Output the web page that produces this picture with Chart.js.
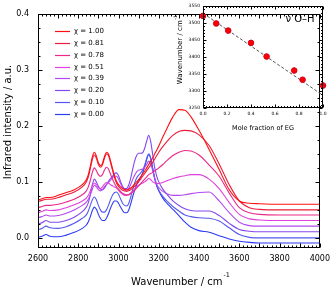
<!DOCTYPE html>
<html>
<head>
<meta charset="utf-8">
<script src="https://cdn.jsdelivr.net/npm/chart.js@4.4.0/dist/chart.umd.min.js"></script>
<style>
  body { margin: 0; background: #fff; }
  #wrap { position: relative; width: 336px; height: 288px; }
  #wrap canvas { position: absolute; left: 0; top: 0; }
</style>
</head>
<body>
<div id="wrap">
  <canvas id="main" width="336" height="288"></canvas>
  <canvas id="inset" width="336" height="288"></canvas>
</div>
<script>
// --- spectra (wavenumber in cm-1, intensity in a.u.) ---
const wavenumbers = [2600, 2620, 2640, 2660, 2700, 2740, 2780, 2820,
  2840, 2850, 2860, 2870, 2880, 2890, 2900, 2910, 2920, 2930,
  2940, 2950, 2960, 2970, 2980, 2990, 3000, 3010, 3020, 3030,
  3040, 3050, 3060, 3070, 3080, 3090, 3100, 3110, 3120, 3130,
  3140, 3150, 3160, 3170, 3180, 3190, 3200,
  3220, 3240, 3270, 3300, 3330, 3360, 3400, 3450, 3500, 3550, 3600, 3650, 3700, 3800, 3900, 4000];

const chiLabels = ["1.00", "0.81", "0.78", "0.51", "0.39", "0.20", "0.10", "0.00"];

const ir_x100 = [.068, .070, .072, .072, .076, .081, .086, .095,
  .104, .113, .128, .145, .153, .146, .134, .129, .133, .145,
  .153, .150, .138, .124, .111, .101, .095, .091, .088, .087,
  .086, .087, .089, .092, .096, .100, .104, .109, .114, .119,
  .125, .131, .137, .143, .150, .157, .164,
  .180, .195, .216, .229, .228, .216, .192, .158, .122, .086, .066, .062, .061, .060, .060, .060];
const ir_x081 = [.065, .067, .069, .069, .072, .077, .082, .091,
  .100, .109, .124, .140, .148, .142, .131, .126, .130, .142,
  .150, .147, .135, .121, .108, .098, .092, .088, .085, .084,
  .083, .084, .086, .089, .092, .096, .100, .105, .110, .115,
  .120, .125, .130, .135, .141, .147, .153,
  .163, .172, .183, .190, .192, .191, .184, .165, .132, .095, .066, .054, .051, .050, .050, .050];
const ir_x078 = [.054, .056, .058, .058, .060, .064, .069, .077,
  .084, .091, .103, .117, .125, .120, .113, .110, .113, .121,
  .126, .123, .114, .105, .097, .091, .087, .083, .080, .078,
  .077, .077, .079, .082, .085, .089, .093, .097, .101, .105,
  .109, .113, .115, .117, .120, .122, .125,
  .131, .138, .147, .153, .156, .155, .148, .130, .110, .080, .054, .045, .042, .041, .041, .041];
const ir_x051 = [.045, .047, .050, .049, .050, .054, .059, .066,
  .071, .076, .084, .093, .098, .095, .090, .088, .091, .096,
  .099, .098, .095, .093, .091, .089, .085, .081, .078, .076,
  .076, .077, .080, .083, .087, .091, .094, .096, .098, .100,
  .103, .106, .104, .100, .098, .097, .097,
  .099, .102, .106, .109, .111, .113, .113, .105, .088, .063, .042, .034, .032, .031, .031, .031];
const ir_x039 = [.036, .038, .041, .039, .040, .044, .050, .058,
  .064, .069, .077, .087, .094, .091, .086, .084, .086, .091,
  .095, .099, .103, .107, .110, .110, .105, .097, .090, .086,
  .085, .088, .095, .104, .112, .118, .121, .122, .123, .126,
  .131, .137, .132, .120, .106, .096, .090,
  .083, .079, .076, .076, .077, .079, .081, .082, .066, .045, .028, .022, .021, .021, .021, .021];
const ir_x020 = [.025, .027, .031, .028, .028, .031, .037, .047,
  .055, .063, .077, .095, .105, .100, .092, .087, .086, .089,
  .095, .101, .106, .110, .115, .116, .111, .101, .092, .088,
  .088, .094, .106, .122, .137, .147, .151, .151, .152, .160,
  .173, .183, .172, .148, .125, .110, .100,
  .087, .078, .066, .058, .052, .049, .048, .048, .040, .026, .015, .012, .011, .011, .011, .011];
const ir_x010 = [.015, .017, .021, .018, .017, .020, .026, .035,
  .041, .048, .058, .068, .073, .068, .058, .050, .046, .046,
  .050, .058, .068, .076, .081, .082, .078, .070, .062, .058,
  .057, .061, .072, .086, .098, .107, .112, .116, .121, .130,
  .142, .150, .142, .123, .105, .093, .085,
  .074, .066, .056, .048, .041, .038, .036, .035, .030, .018, .006, .001, .000, .000, .000, .000];
const ir_x000 = [.001, .003, .006, .003, .002, .005, .010, .017,
  .023, .029, .038, .049, .055, .051, .042, .035, .031, .031,
  .035, .043, .053, .061, .066, .066, .062, .055, .049, .045,
  .045, .049, .060, .073, .085, .095, .102, .108, .116, .127,
  .140, .149, .142, .124, .106, .093, .084,
  .071, .062, .051, .040, .028, .019, .013, .010, .004, -.002, -.006, -.008, -.009, -.009, -.009, -.009];

const xTicks = [2600, 2800, 3000, 3200, 3400, 3600, 3800, 4000];
const yTicks = [0.0, 0.1, 0.2, 0.3, 0.4];

// --- inset: O-H band position vs mole fraction of EG ---
const moleFraction = [0.00, 0.11, 0.21, 0.40, 0.53, 0.76, 0.83, 1.00];
const peakOH = [3520, 3498, 3477, 3441, 3401, 3360, 3333, 3316];
const peakErr = [9, 8, 8, 8, 8, 8, 8, 10];
const fitX = [0, 1];
const fitY = [3528, 3287];
const insetXTicks = [0, 0.2, 0.4, 0.6, 0.8, 1.0];
const insetYTicks = [3250, 3300, 3350, 3400, 3450, 3500, 3550];

const series = [ir_x100, ir_x081, ir_x078, ir_x051, ir_x039, ir_x020, ir_x010, ir_x000];
const lineColors = ["#ff1010", "#ec1c3c", "#ec2888", "#e040dc", "#b448f0", "#8448f0", "#5458f0", "#2c3cf4"];

Chart.defaults.font.family = "'DejaVu Sans', sans-serif";
Chart.defaults.color = "#000";

// box + inward ticks on all four sides
function drawFrame(chart, f) {
  const { ctx, chartArea: a, scales } = chart;
  const xs = scales.x, ys = scales.y;
  const L = Math.round(a.left) + 0.5, R = Math.round(a.right) - 0.5;
  const T = Math.round(a.top) + 0.5, B = Math.round(a.bottom) - 0.5;
  ctx.save();
  ctx.strokeStyle = "#000";
  ctx.lineWidth = 1;
  ctx.strokeRect(L, T, R - L, B - T);
  ctx.beginPath();
  const eps = 1e-6;
  for (let k = Math.ceil(xs.min / f.xMinor - eps); k * f.xMinor <= xs.max + eps; k++) {
    const v = k * f.xMinor;
    const major = Math.abs(v / f.xMajor - Math.round(v / f.xMajor)) < 1e-3;
    const len = major ? f.majorLen : f.minorLen;
    const px = Math.round(xs.getPixelForValue(v)) + 0.5;
    ctx.moveTo(px, B); ctx.lineTo(px, B - len);
    ctx.moveTo(px, T); ctx.lineTo(px, T + len);
  }
  for (let k = Math.ceil(ys.min / f.yMinor - eps); k * f.yMinor <= ys.max + eps; k++) {
    const v = k * f.yMinor;
    const major = Math.abs(v / f.yMajor - Math.round(v / f.yMajor)) < 1e-3;
    const len = major ? f.majorLen : f.minorLen;
    const py = Math.round(ys.getPixelForValue(v)) + 0.5;
    ctx.moveTo(L, py); ctx.lineTo(L + len, py);
    ctx.moveTo(R, py); ctx.lineTo(R - len, py);
  }
  ctx.stroke();
  ctx.restore();
}

const mainDecor = {
  id: "mainDecor",
  afterDraw(chart) {
    drawFrame(chart, { xMinor: 20, xMajor: 100, yMinor: 0.025, yMajor: 0.1, minorLen: 2, majorLen: 4 });
    const { ctx, chartArea: a } = chart;
    ctx.save();
    ctx.fillStyle = "#000";
    // axis titles
    ctx.font = "10px 'DejaVu Sans'";
    ctx.textAlign = "center";
    ctx.textBaseline = "middle";
    ctx.translate(8, 122);
    ctx.rotate(-Math.PI / 2);
    ctx.fillText("Infrared intensity / a.u.", 0, 0);
    ctx.setTransform(1, 0, 0, 1, 0, 0);
    const t1 = "Wavenumber / cm", t2 = "-1";
    ctx.font = "10px 'DejaVu Sans'";
    const w1 = ctx.measureText(t1).width;
    ctx.font = "6.5px 'DejaVu Sans'";
    const w2 = ctx.measureText(t2).width;
    const x0 = 180 - (w1 + w2) / 2;
    ctx.textAlign = "left";
    ctx.textBaseline = "alphabetic";
    ctx.font = "10px 'DejaVu Sans'";
    ctx.fillText(t1, x0, 285);
    ctx.font = "6.5px 'DejaVu Sans'";
    ctx.fillText(t2, x0 + w1 + 1, 277);
    // legend
    ctx.font = "7px 'DejaVu Sans'";
    ctx.textBaseline = "middle";
    chart.data.datasets.forEach((ds, i) => {
      const y = Math.round(a.top + 17 + i * 11.9) + 0.5;
      ctx.strokeStyle = ds.borderColor;
      ctx.lineWidth = 1.2;
      ctx.beginPath();
      ctx.moveTo(a.left + 17, y);
      ctx.lineTo(a.left + 32, y);
      ctx.stroke();
      ctx.fillText(ds.label, a.left + 36, y);
    });
    ctx.restore();
  }
};

new Chart(document.getElementById("main"), {
  type: "line",
  data: {
    datasets: series.map((s, i) => ({
      label: "\u03c7 = " + chiLabels[i],
      data: wavenumbers.map((x, j) => ({ x: x, y: s[j] })),
      borderColor: lineColors[i],
      borderWidth: 1.1,
      pointRadius: 0,
      cubicInterpolationMode: "monotone",
      fill: false
    }))
  },
  options: {
    responsive: false,
    animation: false,
    devicePixelRatio: 1,
    layout: { padding: { top: 5, right: 13, left: 0, bottom: 0 } },
    plugins: { legend: { display: false }, tooltip: { enabled: false } },
    scales: {
      x: {
        type: "linear", min: 2600, max: 4000,
        afterBuildTicks: (s) => { s.ticks = xTicks.map(v => ({ value: v })); },
        afterFit: (s) => { s.height = 40; },
        grid: { display: false, drawTicks: false },
        border: { display: false },
        ticks: { font: { size: 8 }, padding: 6, maxRotation: 0, callback: (v) => String(v) }
      },
      y: {
        type: "linear", min: -0.018, max: 0.4,
        afterBuildTicks: (s) => { s.ticks = yTicks.map(v => ({ value: v })); },
        afterFit: (s) => { s.width = 38; },
        grid: { display: false, drawTicks: false },
        border: { display: false },
        ticks: { font: { size: 8 }, padding: 9, callback: (v) => v.toFixed(1) }
      }
    }
  },
  plugins: [mainDecor]
});

const insetDecor = {
  id: "insetDecor",
  beforeDatasetsDraw(chart) {
    const { ctx, scales: { x, y } } = chart;
    ctx.save();
    ctx.strokeStyle = "#ff8a8a";
    ctx.lineWidth = 1.5;
    ctx.beginPath();
    moleFraction.forEach((m, i) => {
      const px = x.getPixelForValue(m);
      ctx.moveTo(px, y.getPixelForValue(peakOH[i] - peakErr[i]));
      ctx.lineTo(px, y.getPixelForValue(peakOH[i] + peakErr[i]));
    });
    ctx.stroke();
    ctx.restore();
  },
  afterDraw(chart) {
    drawFrame(chart, { xMinor: 0.025, xMajor: 0.2, yMinor: 10, yMajor: 50, minorLen: 1.5, majorLen: 3 });
    const ctx = chart.ctx;
    ctx.save();
    ctx.fillStyle = "#000";
    ctx.textAlign = "center";
    ctx.textBaseline = "middle";
    ctx.font = "6.5px 'DejaVu Sans'";
    ctx.fillText("Mole fraction of EG", 263, 128);
    ctx.font = "10px 'DejaVu Sans'";
    ctx.fillText("\u03bd O\u2013H", 300, 19);
    ctx.translate(180, 50);
    ctx.rotate(-Math.PI / 2);
    ctx.font = "7px 'DejaVu Sans'";
    const t1 = "Wavenumber / cm", t2 = "-1";
    const w1 = ctx.measureText(t1).width;
    ctx.font = "4.5px 'DejaVu Sans'";
    const w2 = ctx.measureText(t2).width;
    const x0 = -(w1 + w2) / 2;
    ctx.textAlign = "left";
    ctx.font = "7px 'DejaVu Sans'";
    ctx.fillText(t1, x0, 0);
    ctx.font = "4.5px 'DejaVu Sans'";
    ctx.fillText(t2, x0 + w1 + 0.5, -4);
    ctx.restore();
  }
};

new Chart(document.getElementById("inset"), {
  type: "scatter",
  data: {
    datasets: [
      {
        data: moleFraction.map((m, i) => ({ x: m, y: peakOH[i] })),
        pointRadius: 2.8,
        pointBackgroundColor: "#ff0000",
        pointBorderColor: "#d00020",
        pointBorderWidth: 1,
        showLine: false,
        clip: false
      },
      {
        data: fitX.map((m, i) => ({ x: m, y: fitY[i] })),
        showLine: true,
        pointRadius: 0,
        borderColor: "#555",
        borderWidth: 1,
        borderDash: [3, 2]
      }
    ]
  },
  options: {
    responsive: false,
    animation: false,
    devicePixelRatio: 1,
    layout: { padding: { top: 5, right: 13, left: 0, bottom: 150 } },
    plugins: { legend: { display: false }, tooltip: { enabled: false } },
    scales: {
      x: {
        type: "linear", min: 0, max: 1,
        afterBuildTicks: (s) => { s.ticks = insetXTicks.map(v => ({ value: v })); },
        afterFit: (s) => { s.height = 30; },
        grid: { display: false, drawTicks: false },
        border: { display: false },
        ticks: { font: { size: 4.5 }, padding: 3, maxRotation: 0, callback: (v) => v.toFixed(1) }
      },
      y: {
        type: "linear", min: 3250, max: 3550,
        afterBuildTicks: (s) => { s.ticks = insetYTicks.map(v => ({ value: v })); },
        afterFit: (s) => { s.width = 203; },
        grid: { display: false, drawTicks: false },
        border: { display: false },
        ticks: { font: { size: 4.5 }, padding: 3, callback: (v) => String(v) }
      }
    }
  },
  plugins: [insetDecor]
});
</script>
</body>
</html>
